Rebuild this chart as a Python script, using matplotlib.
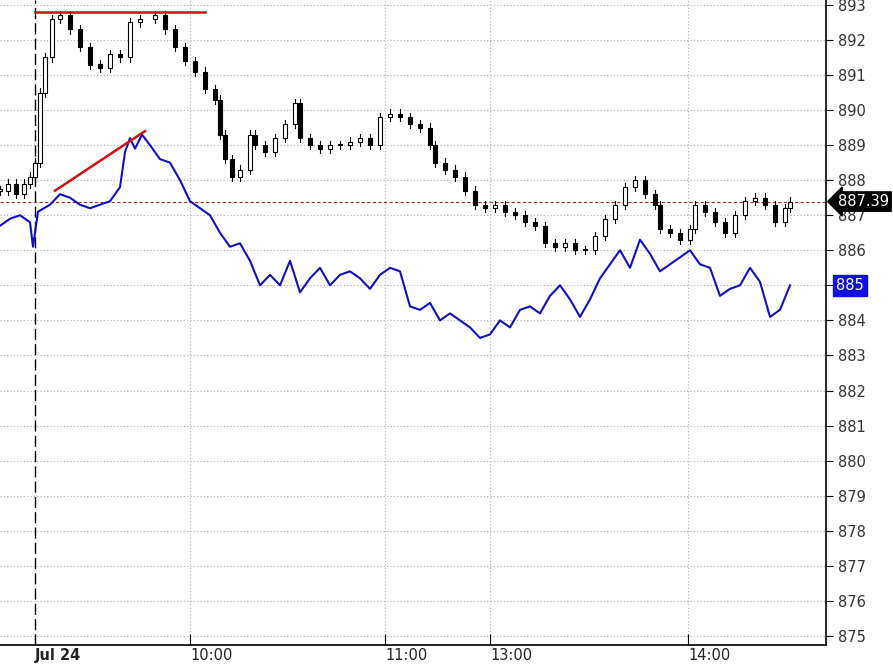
import numpy as np
import matplotlib.pyplot as plt
from matplotlib.patches import Rectangle

# black candle series: bar positions and closes
bar_x = [0, 8, 16, 24, 30, 35, 40, 45, 52, 60, 70, 80, 90, 100, 110, 120, 130, 140, 155, 165,
         175, 185, 195, 205, 215, 220, 225, 232, 240, 250, 255, 265, 275, 285, 295, 300, 310,
         320, 330, 340, 350, 360, 370, 380, 390, 400, 410, 420, 430, 435, 445, 455, 465, 475,
         485, 495, 505, 515, 525, 535, 545, 555, 565, 575, 585, 595, 605, 615, 625, 635, 645,
         655, 660, 670, 680, 690, 695, 705, 715, 725, 735, 745, 755, 765, 775, 785, 790]
bar_close = [887.7, 887.9, 887.6, 887.9, 888.1, 888.5, 890.5, 891.5, 892.6, 892.7, 892.3, 891.8,
             891.3, 891.2, 891.6, 891.5, 892.5, 892.6, 892.7, 892.3, 891.8, 891.4, 891.1, 890.6,
             890.3, 889.3, 888.6, 888.1, 888.3, 889.3, 889.0, 888.8, 889.2, 889.6, 890.2, 889.2,
             889.0, 888.9, 889.0, 889.0, 889.1, 889.2, 889.0, 889.8, 889.9, 889.8, 889.6, 889.5,
             889.0, 888.5, 888.3, 888.1, 887.7, 887.3, 887.2, 887.3, 887.1, 887.0, 886.8, 886.7,
             886.2, 886.1, 886.2, 886.0, 886.0, 886.4, 886.9, 887.3, 887.8, 888.0, 887.6, 887.3,
             886.6, 886.5, 886.3, 886.6, 887.3, 887.1, 886.8, 886.5, 887.0, 887.4, 887.5, 887.3,
             886.8, 887.2, 887.39]

# blue comparison line
line_x = [0, 10, 20, 30, 33, 38, 50, 60, 70, 80, 90, 100, 110, 120, 125, 130, 135, 142, 150, 160,
          170, 180, 190, 200, 210, 220, 230, 240, 250, 260, 270, 280, 290, 300, 310, 320, 330,
          340, 350, 360, 370, 380, 390, 400, 410, 420, 430, 440, 450, 460, 470, 480, 490, 500,
          510, 520, 530, 540, 550, 560, 570, 580, 590, 600, 610, 620, 630, 640, 650, 660, 670,
          680, 690, 700, 710, 720, 730, 740, 750, 760, 770, 780, 790]
line_y = [886.7, 886.9, 887.0, 886.8, 886.1, 887.1, 887.3, 887.6, 887.5, 887.3, 887.2, 887.3,
          887.4, 887.8, 888.8, 889.2, 888.9, 889.3, 889.0, 888.6, 888.5, 888.0, 887.4, 887.2,
          887.0, 886.5, 886.1, 886.2, 885.7, 885.0, 885.3, 885.0, 885.7, 884.8, 885.2, 885.5,
          885.0, 885.3, 885.4, 885.2, 884.9, 885.3, 885.5, 885.4, 884.4, 884.3, 884.5, 884.0,
          884.2, 884.0, 883.8, 883.5, 883.6, 884.0, 883.8, 884.3, 884.4, 884.2, 884.7, 885.0,
          884.6, 884.1, 884.6, 885.2, 885.6, 886.0, 885.5, 886.3, 885.9, 885.4, 885.6, 885.8,
          886.0, 885.6, 885.5, 884.7, 884.9, 885.0, 885.5, 885.1, 884.1, 884.3, 885.0]

tick_pos = [35, 190, 385, 490, 688]
tick_labels = ['Jul 24', '10:00', '11:00', '13:00', '14:00']
y_ticks = list(range(875, 894))
last_price = 887.39
last_line = 885

fig = plt.figure(figsize=(8.93, 6.64), dpi=100)
ax = fig.add_axes([0, 19 / 664, 826 / 893, 645 / 664])
ax.set_xlim(0, 826)
ax.set_ylim(874.74, 893.14)

for v in y_ticks:
    ax.axhline(v, color='#b0b0b0', lw=0.8, ls=(0, (1, 2)), zorder=0)
for p in tick_pos[1:]:
    ax.axvline(p, color='#b0b0b0', lw=0.8, ls=(0, (1, 2)), zorder=0)
ax.axvline(tick_pos[0], color='black', lw=1, ls=(0, (8, 3)), zorder=1)

opens = [bar_close[0]] + bar_close[:-1]
for x, o, c in zip(bar_x, opens, bar_close):
    lo, hi = min(o, c), max(o, c)
    ax.plot([x, x], [lo - 0.12, hi + 0.12], color='black', lw=0.8, zorder=3)
    body = max(hi - lo, 0.04)
    face = 'white' if c >= o else 'black'
    ax.add_patch(Rectangle((x - 2, lo), 4, body, facecolor=face, edgecolor='black', lw=0.8, zorder=4))

ax.plot(line_x, line_y, color='#1010c0', lw=1.5, zorder=3)

ax.axhline(last_price, color='#a03030', lw=0.8, ls=(0, (3, 2)), zorder=2)
ax.plot([35, 205], [892.8, 892.8], color='#d01010', lw=1.8, zorder=5)
ax.plot([55, 145], [887.7, 889.4], color='#d01010', lw=1.8, zorder=5)

ax.yaxis.tick_right()
ax.set_yticks(y_ticks)
ax.set_yticklabels([str(v) for v in y_ticks], color='#333333', fontsize=10.5)
ax.tick_params(axis='y', length=5, direction='out')
ax.set_xticks(tick_pos)
ax.set_xticklabels(tick_labels, fontsize=10.5, color='#222222', ha='left')
ax.get_xticklabels()[0].set_fontweight('bold')
ax.tick_params(axis='x', length=8, direction='in', pad=2)
for s in ['top', 'left']:
    ax.spines[s].set_visible(False)
ax.spines['right'].set_linewidth(1.2)
ax.spines['bottom'].set_linewidth(1.2)

ax.annotate(f'{last_price:.2f}', xy=(828, last_price), xycoords='data', annotation_clip=False,
            fontsize=10.5, color='white', va='center', ha='left',
            bbox=dict(boxstyle='larrow,pad=0.15', fc='black', ec='black'), xytext=(838, last_price))
ax.text(836, last_line, f'{last_line}', fontsize=10.5, color='white', va='center', ha='left',
        bbox=dict(boxstyle='square,pad=0.2', fc='#1010e0', ec='#1010e0'), clip_on=False)

fig.savefig('out.png', dpi=100)
